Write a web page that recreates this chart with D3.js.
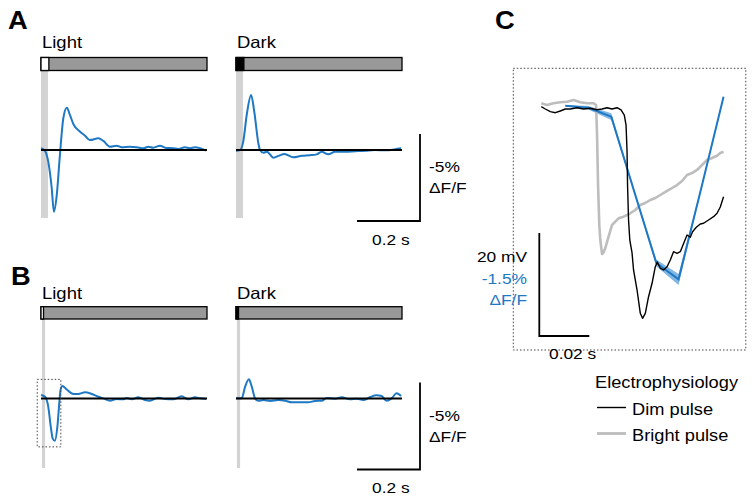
<!DOCTYPE html>
<html><head><meta charset="utf-8">
<script src="https://cdn.jsdelivr.net/npm/d3@7"></script>
<style>body{margin:0;background:#fff}svg{display:block}text{font-family:"Liberation Sans",Arial,sans-serif}</style>
</head><body><svg id="c" width="754" height="503"></svg>
<script>
// ---------------- DATA ----------------
const conditions = ["Light", "Dark"];
const trialDuration = 0.527;          // s
const pulseA = [0, 0.025];            // stimulus pulse, panel A (s)
const pulseB = [0, 0.008];            // stimulus pulse, panel B (s)
const shadeA = [0, 0.022];            // grey shaded window, panel A
const shadeB = [0.003, 0.013];        // grey shaded window, panel B
const scaleBarTime = 0.2;             // s
const scaleBarDFF = 5;                // % (-5% dF/F, upward)

// [time (s), dF/F (%)]  (negative = upward deflection)
const aLight = [[0,-0.10],[0.013,0.06],[0.023,0.67],[0.034,2.18],[0.041,3.55],[0.050,2.59],[0.060,0.29],[0.071,-1.84],[0.082,-2.43],[0.092,-2.01],[0.103,-1.48],[0.124,-1.05],[0.140,-0.82],[0.155,-0.57],[0.182,-0.67],[0.198,-0.52],[0.219,-0.19],[0.240,-0.25],[0.256,-0.16],[0.283,-0.19],[0.304,-0.16],[0.325,-0.10],[0.341,-0.19],[0.356,-0.13],[0.378,-0.25],[0.394,-0.13],[0.420,-0.10],[0.436,-0.06],[0.457,-0.16],[0.473,-0.10],[0.489,-0.16],[0.505,-0.10],[0.524,0.04]];
const aDark = [[0,0.04],[0.013,0],[0.023,-0.48],[0.034,-2.01],[0.048,-3.16],[0.058,-2.20],[0.071,-0.39],[0.076,0],[0.087,0.16],[0.098,0.10],[0.119,0.44],[0.135,0.34],[0.154,0.23],[0.182,0.42],[0.209,0.33],[0.235,0.30],[0.256,0.25],[0.272,0.10],[0.293,0.25],[0.314,0.10],[0.346,0.10],[0.378,0.07],[0.410,0.04],[0.441,0],[0.473,0.02],[0.505,-0.04],[0.524,-0.10]];
const bLight = [[0,-0.20],[0.013,-0.10],[0.023,0.47],[0.031,1.62],[0.037,2.29],[0.044,2.43],[0.052,1.62],[0.058,0.28],[0.062,-0.49],[0.068,-0.72],[0.081,-0.53],[0.103,-0.26],[0.118,-0.26],[0.140,-0.36],[0.161,-0.26],[0.182,-0.10],[0.198,-0.01],[0.219,0.13],[0.240,0.03],[0.261,0.05],[0.272,-0.03],[0.288,0.05],[0.309,-0.07],[0.330,0.09],[0.346,0.13],[0.372,-0.05],[0.394,0.03],[0.420,0.05],[0.446,-0.13],[0.468,0.05],[0.489,-0.07],[0.505,-0.01],[0.524,0.03]];
const bDark = [[0,-0.01],[0.018,-0.01],[0.029,-0.68],[0.041,-1.10],[0.050,-0.68],[0.062,0.05],[0.071,0.13],[0.087,0.09],[0.108,0.14],[0.135,0.09],[0.156,0.13],[0.177,0.22],[0.203,0.22],[0.230,0.22],[0.251,0.14],[0.272,0.13],[0.288,-0.03],[0.314,0.01],[0.336,-0.07],[0.362,0.05],[0.383,0.01],[0.404,0.09],[0.425,-0.07],[0.446,-0.18],[0.462,-0.14],[0.478,0.13],[0.494,-0.01],[0.510,-0.30],[0.524,-0.14]];
const insetWindow = [-0.012, 0.063, -1.1, 2.78]; // t0, t1, v0, v1 of dotted box in B

// Panel C
const cTime = [20.8,30.0,39.2,48.2,57.2,66.1,75.2,84.1];          // ms
const cDFF  = [0.01,0.04,0.17,1.24,2.30,2.54,1.21,-0.12];         // %
const cSEM  = [0.01,0.025,0.05,0.02,0.05,0.08,0.02,0.015];        // %
// [time (ms), membrane potential change (mV)]
const dimPulse = [[11.2,0.45],[12.8,0],[14.8,-0.52],[16.8,-0.72],[18.8,-0.39],[20.8,0],[22.8,0],[25.5,0.25],[28.1,0],[30.8,0.14],[33.5,-0.14],[35.5,0],[37.5,0.25],[39.5,0],[41.5,0.25],[43.1,-0.19],[44.4,-1.17],[45.1,-3.11],[45.5,-8.29],[45.7,-14.76],[46.1,-21.55],[46.6,-25.44],[47.5,-27.96],[48.1,-31.26],[49.5,-35.15],[50.8,-39.67],[51.7,-40.64],[52.8,-39.67],[54.1,-36.45],[55.5,-33.84],[56.8,-30.62],[57.6,-29.71],[58.8,-30.93],[60.1,-31.26],[61.5,-30.62],[62.8,-29.32],[64.1,-27.71],[65.5,-28.02],[66.8,-27.71],[68.4,-25.77],[69.5,-24.47],[70.8,-24.91],[71.7,-23.83],[73.2,-22.97],[74.8,-22.33],[76.1,-22.19],[78.1,-21.55],[80.1,-20.91],[81.5,-20.25],[82.8,-19.03],[84.1,-17.03]];
const brightPulse = [[11.2,1.11],[13.5,0.78],[16.1,1.11],[18.8,1.30],[21.5,1.42],[24.1,1.75],[26.8,1.30],[29.5,1.11],[32.1,1.11],[33.1,0.78],[33.5,-5.05],[33.9,-14.76],[34.4,-22.52],[34.8,-25.44],[35.5,-28.16],[36.2,-27.77],[36.8,-26.99],[38.1,-24.80],[39.5,-22.52],[40.8,-21.88],[42.1,-21.22],[44.1,-20.91],[45.5,-20.58],[46.8,-20.25],[48.8,-19.61],[50.8,-18.64],[52.8,-18.25],[54.8,-17.67],[56.8,-17.28],[58.8,-16.70],[61.5,-15.92],[63.5,-15.34],[65.5,-14.76],[67.5,-13.98],[69.5,-12.82],[71.5,-12.43],[73.5,-11.84],[75.5,-10.87],[77.5,-9.90],[79.5,-9.51],[81.5,-9.07],[82.8,-8.54],[84.1,-8.29]];
const cScaleTime = 20;   // ms
const cScaleMV = 20;     // mV
const cScaleDFF = 1.5;   // %
const legendTitle = "Electrophysiology";
const legendItems = ["Dim pulse", "Bright pulse"];

// ---------------- DRAW ----------------
const BLUE = "#1e78c3";
const svg = d3.select("#c");
const SX = 1.12;
function label(x, y, txt, size, o = {}) {
  const t = svg.append("text")
    .attr("transform", `translate(${x},${y}) scale(${o.sx || SX},1)`)
    .attr("font-size", size).text(txt);
  if (o.anchor) t.attr("text-anchor", o.anchor);
  if (o.fill) t.attr("fill", o.fill);
  if (o.weight) t.attr("font-weight", o.weight);
  return t;
}

function drawRow(cfg) {
  const traces = {Light: cfg.light, Dark: cfg.dark};
  conditions.forEach((cond, i) => {
    const x0 = i === 0 ? 41 : 236;
    const x = d3.scaleLinear().domain([0, trialDuration]).range([x0, x0 + 166]);
    const y = d3.scaleLinear().domain([0, 5]).range([cfg.baseline, cfg.baseline + 87]);
    // shaded stimulus window
    svg.append("rect").attr("x", x(cfg.shade[0])).attr("y", cfg.barBottom)
      .attr("width", x(cfg.shade[1]) - x(cfg.shade[0])).attr("height", cfg.shadeBottom - cfg.barBottom)
      .attr("fill", "#d3d3d3");
    // stimulus bar
    svg.append("rect").attr("x", x(0)).attr("y", cfg.barTop)
      .attr("width", x(trialDuration) - x(0)).attr("height", cfg.barBottom - cfg.barTop)
      .attr("fill", "#999").attr("stroke", "#000").attr("stroke-width", 1.3);
    svg.append("rect").attr("x", x(cfg.pulse[0])).attr("y", cfg.barTop)
      .attr("width", x(cfg.pulse[1]) - x(cfg.pulse[0])).attr("height", cfg.barBottom - cfg.barTop)
      .attr("fill", cond === "Light" ? "#fff" : "#000").attr("stroke", "#000").attr("stroke-width", 1.3);
    // trace
    const line = d3.line().x(d => x(d[0])).y(d => y(d[1])).curve(d3.curveMonotoneX);
    svg.append("path").datum(traces[cond]).attr("d", line)
      .attr("fill", "none").attr("stroke", BLUE).attr("stroke-width", 2).attr("stroke-linejoin", "round");
    // baseline
    svg.append("line").attr("x1", x(0)).attr("x2", x(trialDuration))
      .attr("y1", y(0)).attr("y2", y(0)).attr("stroke", "#000").attr("stroke-width", 1.8);
    label(x0 + 1, cfg.labelY, cond, 16.5);
    if (i === 0 && cfg.inset) {
      const w = cfg.inset;
      svg.append("rect").attr("x", x(w[0])).attr("y", y(w[2]))
        .attr("width", x(w[1]) - x(w[0])).attr("height", y(w[3]) - y(w[2]))
        .attr("fill", "none").attr("stroke", "#444").attr("stroke-width", 1).attr("stroke-dasharray", "1.5,2");
    }
    if (i === 1) {
      // scale bars
      const bx = 420, by = cfg.baseline + 71;
      const vlen = y(scaleBarDFF) - y(0), hlen = x(scaleBarTime) - x(0);
      svg.append("path").attr("d", `M${bx},${by - vlen}V${by}H${bx - hlen}`)
        .attr("fill", "none").attr("stroke", "#000").attr("stroke-width", 1.8);
      label(429, cfg.baseline + 22, "-" + scaleBarDFF + "%", 15.5);
      label(429, cfg.baseline + 43, "\u0394F/F", 15.5);
      label(372, by + 23.5, scaleBarTime + " s", 15.5);
    }
  });
  label(cfg.letterX, cfg.letterY, cfg.letter, 26, {weight: "bold", sx: 1.05});
}

drawRow({letter: "A", letterX: 8, letterY: 29, labelY: 48, baseline: 150, barTop: 57.5, barBottom: 70.5,
  shadeBottom: 218, light: aLight, dark: aDark, pulse: pulseA, shade: shadeA});
drawRow({letter: "B", letterX: 11, letterY: 285, labelY: 299, baseline: 398.5, barTop: 306.7, barBottom: 319,
  shadeBottom: 468, light: bLight, dark: bDark, pulse: pulseB, shade: shadeB, inset: insetWindow});

// ---- Panel C ----
label(495, 29, "C", 26, {weight: "bold", sx: 1.05});
const xC = d3.scaleLinear().domain([0, 93]).range([513.3, 745.8]);
const yV = d3.scaleLinear().domain([0, -cScaleMV]).range([109, 212]);
const yF = d3.scaleLinear().domain([0, cScaleDFF]).range([105, 208]);

svg.append("rect").attr("x", 513.3).attr("y", 68.3).attr("width", 232.5).attr("height", 281.7)
  .attr("fill", "none").attr("stroke", "#444").attr("stroke-width", 1).attr("stroke-dasharray", "1.5,2");

const cData = cTime.map((t, i) => ({t, v: cDFF[i], s: cSEM[i]}));
svg.append("path").datum(cData)
  .attr("d", d3.area().x(d => xC(d.t)).y0(d => yF(d.v - d.s)).y1(d => yF(d.v + d.s)))
  .attr("fill", "#6aa8df").attr("opacity", 0.85);

const vLine = d3.line().x(d => xC(d[0])).y(d => yV(d[1]));
svg.append("path").datum(brightPulse).attr("d", vLine)
  .attr("fill", "none").attr("stroke", "#bdbdbd").attr("stroke-width", 2.6).attr("stroke-linejoin", "round");
svg.append("path").datum(cData).attr("d", d3.line().x(d => xC(d.t)).y(d => yF(d.v)))
  .attr("fill", "none").attr("stroke", BLUE).attr("stroke-width", 2);
svg.append("path").datum(dimPulse).attr("d", vLine)
  .attr("fill", "none").attr("stroke", "#000").attr("stroke-width", 1.4).attr("stroke-linejoin", "round");

// C scale bar
{
  const bx = 539.3, by = 336;
  const vlen = yV(-cScaleMV) - yV(0), hlen = xC(cScaleTime) - xC(0);
  svg.append("path").attr("d", `M${bx},${by - vlen}V${by}H${bx + hlen}`)
    .attr("fill", "none").attr("stroke", "#000").attr("stroke-width", 1.8);
  label(527, 262, cScaleMV + " mV", 15.5, {anchor: "end"});
  label(527, 284, "-" + cScaleDFF + "%", 15.5, {anchor: "end", fill: BLUE});
  label(527, 305, "\u0394F/F", 15.5, {anchor: "end", fill: BLUE});
  label(549, 359, (cScaleTime / 1000) + " s", 15.5);
}

// legend
label(595, 388, legendTitle, 16.3);
const legColors = ["#000", "#bdbdbd"], legW = [1.4, 2.8];
legendItems.forEach((name, i) => {
  const yy = 407.5 + i * 26;
  svg.append("line").attr("x1", 597).attr("x2", 626).attr("y1", yy).attr("y2", yy)
    .attr("stroke", legColors[i]).attr("stroke-width", legW[i]);
  label(632, yy + 7, name, 16.3);
});
</script></body></html>
